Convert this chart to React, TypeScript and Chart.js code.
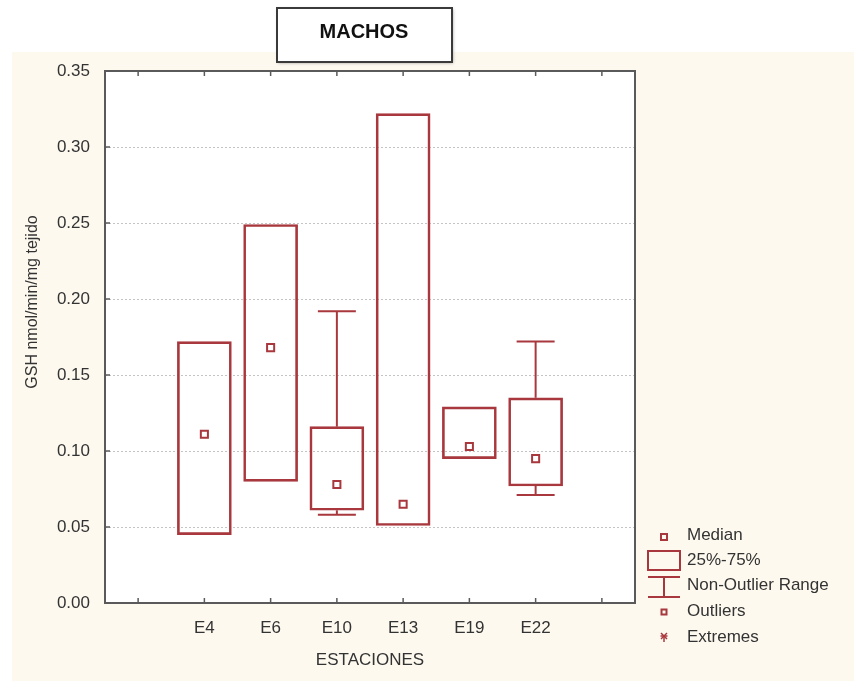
import React, { useEffect, useRef } from "react";
import { Chart, registerables } from "chart.js";

Chart.register(...registerables);

// ---------- data ----------
const TITLE = "MACHOS";
const X_LABEL = "ESTACIONES";
const Y_LABEL = "GSH nmol/min/mg tejido";
const STATIONS = ["E4", "E6", "E10", "E13", "E19", "E22"];
const MEDIANS = [0.111, 0.168, 0.078, 0.065, 0.103, 0.095];
const Q1 = [0.045, 0.08, 0.061, 0.051, 0.095, 0.077];
const Q3 = [0.172, 0.249, 0.116, 0.322, 0.129, 0.135];
const WHISKER_LOW: (number | null)[] = [null, null, 0.058, null, null, 0.071];
const WHISKER_HIGH: (number | null)[] = [null, null, 0.192, null, null, 0.172];
const Y_MIN = 0;
const Y_MAX = 0.35;
const Y_STEP = 0.05;
const LEGEND_ITEMS = ["Median", "25%-75%", "Non-Outlier Range", "Outliers", "Extremes"];

// ---------- styles ----------
const RED = "#A8383D";
const CREAM = "#FDF9EF";
const FRAME = "#5a5a5a";
const TEXT = "#333333";
const FONT_FAMILY = "'Liberation Sans', Arial, sans-serif";
const BOX_WIDTH = 54;
const CAP_WIDTH = 38;

function line(ctx: CanvasRenderingContext2D, x1: number, y1: number, x2: number, y2: number) {
  ctx.beginPath();
  ctx.moveTo(x1, y1);
  ctx.lineTo(x2, y2);
  ctx.stroke();
}

const decorPlugin = {
  id: "decor",
  beforeDraw(chart: any) {
    const { ctx, chartArea: a, width, height } = chart;
    ctx.save();
    ctx.fillStyle = "#ffffff";
    ctx.fillRect(0, 0, width, height);
    ctx.fillStyle = CREAM;
    ctx.fillRect(12, 52, width - 12, height - 52);
    ctx.fillStyle = "#ffffff";
    ctx.fillRect(a.left, a.top, a.right - a.left, a.bottom - a.top);
    // dotted grid lines
    const ys = chart.scales.y;
    ctx.strokeStyle = "#c4c4c4";
    ctx.lineWidth = 1;
    ctx.setLineDash([2, 2]);
    ys.ticks.forEach((t: any) => {
      if (t.value <= ys.min + 1e-9 || t.value >= ys.max - 1e-9) return;
      const py = Math.round(ys.getPixelForValue(t.value)) + 0.5;
      line(ctx, a.left, py, a.right, py);
    });
    ctx.restore();
  },
  afterDatasetsDraw(chart: any) {
    const { ctx } = chart;
    const xs = chart.scales.x;
    const ys = chart.scales.y;
    ctx.save();
    ctx.strokeStyle = RED;
    ctx.lineWidth = 2;
    STATIONS.forEach((_, i) => {
      const px = xs.getPixelForValue(i + 1);
      const hi = WHISKER_HIGH[i];
      const lo = WHISKER_LOW[i];
      if (hi != null) {
        const yTop = ys.getPixelForValue(hi);
        const yBox = ys.getPixelForValue(Q3[i]);
        line(ctx, px, yBox, px, yTop);
        line(ctx, px - CAP_WIDTH / 2, yTop, px + CAP_WIDTH / 2, yTop);
      }
      if (lo != null) {
        const yBot = ys.getPixelForValue(lo);
        const yBox = ys.getPixelForValue(Q1[i]);
        line(ctx, px, yBox, px, yBot);
        line(ctx, px - CAP_WIDTH / 2, yBot, px + CAP_WIDTH / 2, yBot);
      }
    });
    ctx.restore();
  },
  afterDraw(chart: any) {
    const { ctx, chartArea: a } = chart;
    const xs = chart.scales.x;
    const ys = chart.scales.y;
    ctx.save();
    // frame
    ctx.strokeStyle = FRAME;
    ctx.lineWidth = 2;
    ctx.strokeRect(a.left, a.top, a.right - a.left, a.bottom - a.top);
    // inward tick marks
    ctx.lineWidth = 1.5;
    ys.ticks.forEach((t: any) => {
      const py = ys.getPixelForValue(t.value);
      line(ctx, a.left, py, a.left + 5, py);
    });
    xs.ticks.forEach((t: any) => {
      const px = xs.getPixelForValue(t.value);
      line(ctx, px, a.bottom, px, a.bottom - 5);
      line(ctx, px, a.top, px, a.top + 5);
    });

    // y-axis title
    ctx.save();
    ctx.translate(33, 302);
    ctx.rotate(-Math.PI / 2);
    ctx.fillStyle = TEXT;
    ctx.font = `16px ${FONT_FAMILY}`;
    ctx.textAlign = "center";
    ctx.textBaseline = "middle";
    ctx.fillText(Y_LABEL, 0, 0);
    ctx.restore();

    // title box
    ctx.save();
    ctx.shadowColor = "rgba(0,0,0,0.35)";
    ctx.shadowBlur = 3;
    ctx.shadowOffsetX = 1;
    ctx.shadowOffsetY = 1;
    ctx.fillStyle = "#ffffff";
    ctx.fillRect(277, 8, 175, 54);
    ctx.restore();
    ctx.strokeStyle = "#3a3a3a";
    ctx.lineWidth = 2;
    ctx.strokeRect(277, 8, 175, 54);
    ctx.fillStyle = "#111111";
    ctx.font = `bold 20px ${FONT_FAMILY}`;
    ctx.textAlign = "center";
    ctx.textBaseline = "middle";
    ctx.fillText(TITLE, 364, 32);

    // legend
    const sx = 664;
    const tx = 687;
    ctx.strokeStyle = RED;
    ctx.lineWidth = 2;
    // median symbol
    ctx.strokeRect(sx - 3, 537 - 3, 6, 6);
    // box symbol
    ctx.strokeRect(648, 551, 32, 19);
    // whisker symbol
    line(ctx, 648, 577, 680, 577);
    line(ctx, sx, 577, sx, 597);
    line(ctx, 648, 597, 680, 597);
    // outlier symbol
    ctx.strokeRect(sx - 2.5, 612 - 2.5, 5, 5);
    // extremes symbol (small asterisk)
    ctx.lineWidth = 1.5;
    line(ctx, sx - 3.5, 636, sx + 3.5, 636);
    line(ctx, sx, 636, sx, 642);
    line(ctx, sx - 3, 633, sx + 3, 639);
    line(ctx, sx + 3, 633, sx - 3, 639);

    ctx.fillStyle = TEXT;
    ctx.font = `17px ${FONT_FAMILY}`;
    ctx.textAlign = "left";
    ctx.textBaseline = "middle";
    const ty = [535, 560, 585, 611, 637];
    LEGEND_ITEMS.forEach((txt, i) => ctx.fillText(txt, tx, ty[i]));
    ctx.restore();
  },
};

export default function App() {
  const ref = useRef<HTMLCanvasElement | null>(null);

  useEffect(() => {
    if (!ref.current) return;
    const font = { family: FONT_FAMILY, size: 17 };
    const chart = new Chart(ref.current, {
      type: "bar",
      data: {
        datasets: [
          {
            type: "scatter",
            label: "Median",
            data: STATIONS.map((_, i) => ({ x: i + 1, y: MEDIANS[i] })),
            pointStyle: "rect",
            pointRadius: 5,
            borderColor: RED,
            backgroundColor: "#ffffff",
            borderWidth: 2,
            order: 0,
          } as any,
          {
            type: "bar",
            label: "25%-75%",
            data: STATIONS.map((_, i) => ({ x: i + 1, y: [Q1[i], Q3[i]] })),
            backgroundColor: "rgba(255,255,255,0)",
            borderColor: RED,
            borderWidth: 2,
            borderSkipped: false,
            barThickness: BOX_WIDTH,
            grouped: false,
            order: 1,
          } as any,
        ],
      },
      options: {
        animation: false,
        responsive: false,
        maintainAspectRatio: false,
        layout: { padding: { left: 0, top: 71, right: 219, bottom: 0 } },
        plugins: {
          legend: { display: false },
          tooltip: { enabled: false },
          title: { display: false },
        },
        scales: {
          x: {
            type: "linear",
            offset: false,
            min: 0 - 0.5,
            max: STATIONS.length + 1.5,
            afterBuildTicks: (s: any) => {
              s.ticks = [0, ...STATIONS.map((_, i) => i + 1), STATIONS.length + 1].map((v) => ({ value: v }));
            },
            afterFit: (s: any) => {
              s.height = 78;
            },
            grid: { display: false, drawTicks: false },
            border: { display: false },
            ticks: {
              padding: 15,
              font,
              color: TEXT,
              autoSkip: false,
              maxRotation: 0,
              callback: (v: any) => STATIONS[Number(v) - 1] ?? "",
            },
            title: {
              display: true,
              text: X_LABEL,
              padding: { top: 0, bottom: 10 },
              font,
              color: TEXT,
            },
          },
          y: {
            type: "linear",
            min: Y_MIN,
            max: Y_MAX,
            afterFit: (s: any) => {
              s.width = 105;
            },
            grid: { display: false, drawTicks: false },
            border: { display: false },
            ticks: {
              stepSize: Y_STEP,
              padding: 15,
              font,
              color: TEXT,
              callback: (v: any) => Number(v).toFixed(2),
            },
          },
        },
      } as any,
      plugins: [decorPlugin as any],
    });
    return () => chart.destroy();
  }, []);

  return (
    <div style={{ position: "fixed", left: 0, top: 0, width: 854, height: 681 }}>
      <canvas ref={ref} width={854} height={681} style={{ width: 854, height: 681, display: "block" }} />
    </div>
  );
}
